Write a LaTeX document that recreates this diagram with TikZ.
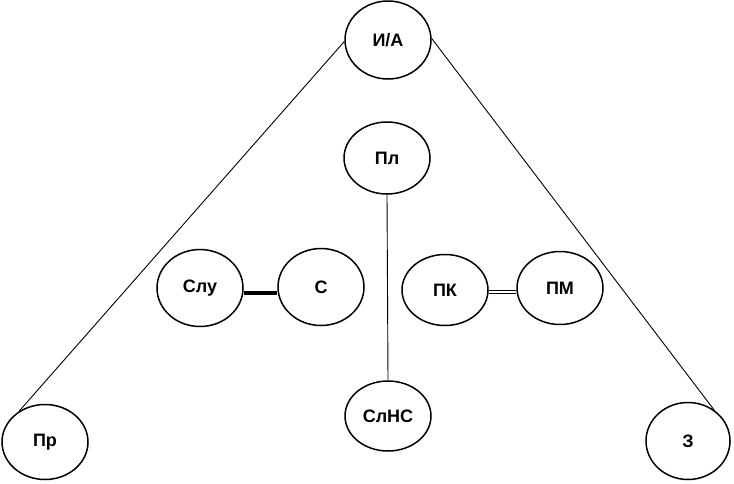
\documentclass[tikz,border=0pt]{standalone}
\usepackage{fontspec}
\setmainfont{Liberation Sans}
\usetikzlibrary{shapes.geometric}
\begin{document}
\begin{tikzpicture}[x=1pt,y=-1pt,
  el/.style={ellipse,draw,line width=1.5pt,minimum width=86pt,minimum height=75pt,inner sep=0pt,font=\fontsize{18}{21}\selectfont\bfseries},
  conn/.style={line width=0.9pt}]
\useasboundingbox (0,0) rectangle (734,483);
\node[el,minimum height=78pt] (ia) at (388,40) {И/А};
\node[el,minimum height=72pt] (pl) at (387,158) {Пл};
\node[el,minimum height=77pt] (slu) at (200,288) {Слу};
\node[el,minimum height=77pt] (s) at (321,287) {С};
\node[el,minimum height=71pt] (pk) at (445,290) {ПК};
\node[el,minimum height=73pt] (pm) at (560,288) {ПМ};
\node[el] (pr) at (45,442) {Пр};
\node[el,minimum width=84pt,minimum height=77pt] (z) at (688,441) {З};
\node[el,minimum height=70pt] (slns) at (388,416) {СлНС};
\draw[conn] (ia.182) -- (pr.130);
\draw[conn] (ia.2) -- (z.50);
\draw[conn] (pl.south) -- (slns.north);
\draw[line width=4.5pt] (slu.east |- 0,293) -- (s.west |- 0,293);
\draw[line width=0.9pt,double distance=2.5pt] (pk.east |- 0,292) -- (pm.west |- 0,292);
\end{tikzpicture}
\end{document}
